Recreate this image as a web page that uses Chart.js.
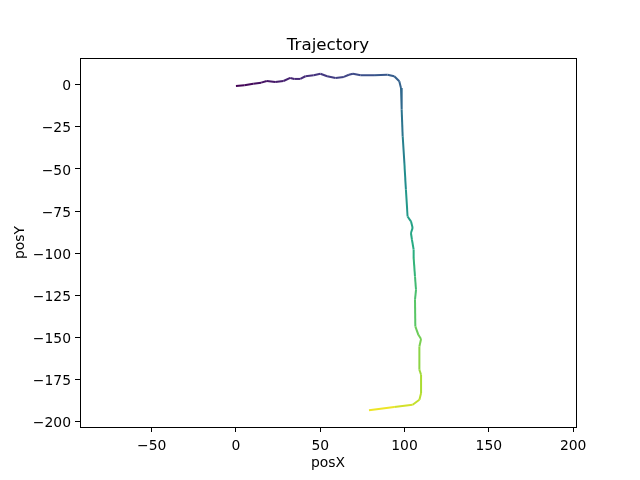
<!DOCTYPE html>
<html>
<head>
<meta charset="utf-8">
<script src="https://cdn.jsdelivr.net/npm/chart.js@4"></script>
<style>
    html, body { margin: 0; padding: 0; background: #fff; }
</style>
</head>
<body>
<canvas id="myChart" width="640" height="480"></canvas>
<script>
// trajectory
const posX = [0, 5, 10.3, 15, 18.3, 23.3, 28.2, 32.2, 34.6, 38.2, 41.2, 46.1, 50.1, 54.1, 59.1, 64.0, 67.0, 69.4, 74, 81.9, 89.9, 93.9, 96.9, 97.9, 98.3, 98.9, 99.9, 100.8, 101.8, 103.8, 104.8, 103.8, 104.4, 105.4, 105.4, 106.2, 106.8, 106.2, 106.4, 108.2, 109.8, 108.8, 108.8, 109.8, 109.8, 108.8, 104.8, 93.9, 78.9];
const posY = [-0.8, -0.3, 0.6, 1.2, 2.2, 1.6, 2.2, 4.0, 3.4, 3.4, 5.0, 5.6, 6.5, 5.0, 4.0, 4.6, 5.9, 6.5, 5.6, 5.6, 5.9, 5.0, 2.0, -2.0, -14.8, -30.7, -46.5, -62.3, -78.2, -81.1, -85, -88, -92, -97.9, -102.8, -113.8, -121.7, -127.6, -143.4, -148.4, -150.9, -155.3, -169.1, -172.1, -183.0, -186.9, -189.9, -191.3, -193.1];

const xTicks = [-50, 0, 50, 100, 150, 200];
const yTicks = [-200, -175, -150, -125, -100, -75, -50, -25, 0];

const viridis = ['#440154', '#472c7a', '#3b518b', '#2c718e', '#21908d', '#27ad81', '#5cc863', '#aadc32', '#fde725'];

function hexToRgb(h) {
    return [parseInt(h.slice(1, 3), 16), parseInt(h.slice(3, 5), 16), parseInt(h.slice(5, 7), 16)];
}

function cmap(t) {
    t = Math.min(1, Math.max(0, t));
    const pos = t * (viridis.length - 1);
    const i = Math.min(viridis.length - 2, Math.floor(pos));
    const f = pos - i;
    const a = hexToRgb(viridis[i]), b = hexToRgb(viridis[i + 1]);
    const c = a.map((v, k) => Math.round(v + (b[k] - v) * f));
    return `rgb(${c[0]},${c[1]},${c[2]})`;
}

// colour along the path by travelled distance
let dist = [0];
for (let i = 1; i < posX.length; i++) {
    dist.push(dist[i - 1] + Math.hypot(posX[i] - posX[i - 1], posY[i] - posY[i - 1]));
}
const total = dist[dist.length - 1];

const points = posX.map((x, i) => ({ x: x, y: posY[i] }));

const font = { family: 'DejaVu Sans', size: 13.9 };
const minus = v => String(v).replace('-', '\u2212');

const frame = {
    id: 'frame',
    afterDraw(chart) {
        const { ctx, chartArea: a } = chart;
        ctx.save();
        ctx.strokeStyle = '#000';
        ctx.lineWidth = 1;
        ctx.strokeRect(Math.round(a.left) + 0.5, Math.round(a.top) + 0.5, Math.round(a.right - a.left), Math.round(a.bottom - a.top));
        ctx.restore();
    }
};

const config = {
    type: 'scatter',
    data: {
        datasets: [{
            data: points,
            showLine: true,
            pointRadius: 0,
            borderWidth: 2,
            borderColor: '#440154',
            segment: {
                borderColor: ctx => cmap((dist[ctx.p0DataIndex] + dist[ctx.p1DataIndex]) / 2 / total),
            },
        }]
    },
    options: {
        responsive: false,
        animation: false,
        layout: { padding: { left: 0, right: 64, top: 0, bottom: 0 } },
        scales: {
            x: {
                type: 'linear',
                min: -92.5,
                max: 201.7,
                afterBuildTicks: scale => { scale.ticks = xTicks.map(v => ({ value: v })); },
                afterFit: scale => { scale.height = 53; },
                grid: { drawOnChartArea: false, tickLength: 5, tickColor: '#000' },
                border: { color: '#000', width: 1 },
                ticks: { color: '#000', font: font, padding: 6, maxRotation: 0, callback: minus },
                title: { display: true, text: 'posX', color: '#000', font: font, padding: { top: 0, bottom: 8 } },
            },
            y: {
                type: 'linear',
                min: -203.1,
                max: 15.8,
                afterBuildTicks: scale => { scale.ticks = yTicks.map(v => ({ value: v })); },
                afterFit: scale => { scale.width = 80; },
                grid: { drawOnChartArea: false, tickLength: 5, tickColor: '#000' },
                border: { color: '#000', width: 1 },
                ticks: { color: '#000', font: font, padding: 4, labelOffset: 2, callback: minus },
                title: { display: true, text: 'posY', color: '#000', font: font, padding: { top: 12, bottom: 0 } },
            },
        },
        plugins: {
            legend: { display: false },
            tooltip: { enabled: false },
            title: {
                display: true,
                text: 'Trajectory',
                color: '#000',
                fullSize: false,
                font: { family: 'DejaVu Sans', size: 16.7, weight: 'normal' },
                padding: { top: 36, bottom: 2 },
            },
        },
    },
    plugins: [frame],
};

let trajectoryChart = new Chart('myChart', config);
</script>
</body>
</html>
